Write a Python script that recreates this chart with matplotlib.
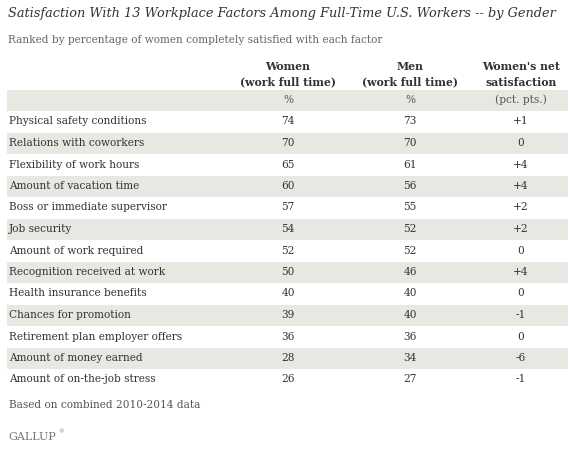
import matplotlib
matplotlib.use("Agg")
import matplotlib.pyplot as plt
from matplotlib.patches import Rectangle

factors = ["Physical safety conditions", "Relations with coworkers", "Flexibility of work hours",
           "Amount of vacation time", "Boss or immediate supervisor", "Job security",
           "Amount of work required", "Recognition received at work", "Health insurance benefits",
           "Chances for promotion", "Retirement plan employer offers", "Amount of money earned",
           "Amount of on-the-job stress"]
women = [74, 70, 65, 60, 57, 54, 52, 50, 40, 39, 36, 28, 26]
men = [73, 70, 61, 56, 55, 52, 52, 46, 40, 40, 36, 34, 27]
net = ["+1", "0", "+4", "+4", "+2", "+2", "0", "+4", "0", "-1", "0", "-6", "-1"]

plt.rcParams['font.family'] = ['DejaVu Serif']
fig = plt.figure(figsize=(5.74, 4.51), dpi=100)
ax = fig.add_axes([0, 0, 1, 1])
ax.set_xlim(0, 574); ax.set_ylim(451, 0); ax.axis('off')
txt = '#333333'
ax.text(8, 14, "Satisfaction With 13 Workplace Factors Among Full-Time U.S. Workers -- by Gender",
        fontsize=9.3, style='italic', va='center', color=txt)
ax.text(8, 40, "Ranked by percentage of women completely satisfied with each factor",
        fontsize=7.6, va='center', color='#666666')
cols = [288, 410, 521]
heads = [("Women", "(work full time)"), ("Men", "(work full time)"), ("Women's net", "satisfaction")]
for x, (a, b) in zip(cols, heads):
    ax.text(x, 67, a, ha='center', va='center', fontsize=7.8, fontweight='bold', color=txt)
    ax.text(x, 82, b, ha='center', va='center', fontsize=7.8, fontweight='bold', color=txt)
band = '#e8e8e3'
y0, dy = 100, 21.5
ax.add_patch(Rectangle((7, y0 - 10.5), 561, 21, color=band, lw=0))
for x, s in zip(cols, ["%", "%", "(pct. pts.)"]):
    ax.text(x, y0, s, ha='center', va='center', fontsize=7.6, color='#555555')
for i, f in enumerate(factors):
    y = y0 + (i + 1) * dy
    if i % 2 == 1:
        ax.add_patch(Rectangle((7, y - 10.5), 561, 21, color=band, lw=0))
    ax.text(9, y, f, va='center', fontsize=7.6, color=txt)
    for x, v in zip(cols, [women[i], men[i], net[i]]):
        ax.text(x, y, str(v), ha='center', va='center', fontsize=7.6, color=txt)
ax.text(9, 405, "Based on combined 2010-2014 data", va='center', fontsize=7.6, color='#555555')
ax.text(8, 437, "GALLUP", va='center', fontsize=8, color='#777777')
ax.text(58, 432, "®", va='center', fontsize=4, color='#777777')
fig.savefig("out.png", dpi=100)
